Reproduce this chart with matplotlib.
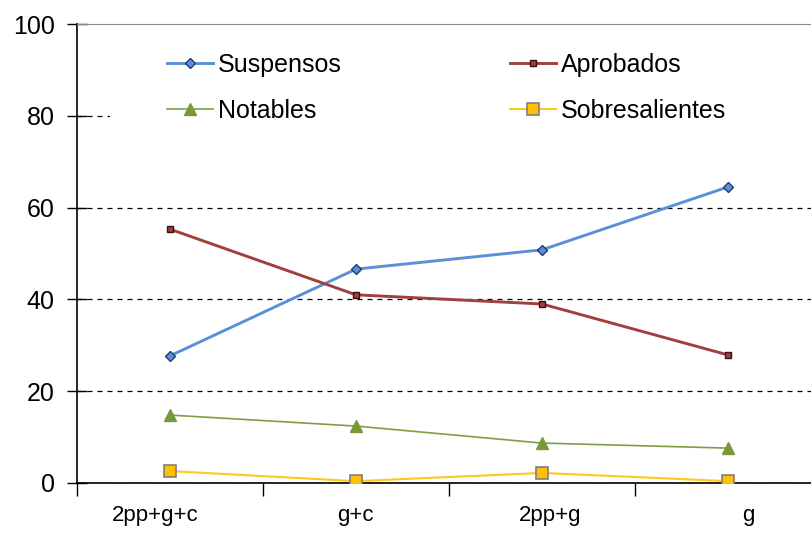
import matplotlib.pyplot as plt
import matplotlib.transforms as mtransforms
from matplotlib.patches import Rectangle

plt.rcParams['font.family'] = ['Liberation Sans', 'DejaVu Sans']

# categorias del eje x
grupos = ['2pp+g+c', 'g+c', '2pp+g', 'g']

# porcentaje de alumnos por nota
suspensos = [27.7, 46.6, 50.8, 64.5]
aprobados = [55.3, 41.0, 39.0, 27.9]
notables = [14.8, 12.4, 8.7, 7.6]
sobresalientes = [2.6, 0.4, 2.2, 0.4]

fig = plt.figure(figsize=(8.12, 5.34), dpi=100)
ax = fig.add_axes([77/812, 51/534, 744/812, 459/534])

x = range(len(grupos))
l1, = ax.plot(x, suspensos, color='#5B8FDA', lw=2.1, marker='D', ms=5,
              mfc='#5B8FDA', mec='#1F3F6F', mew=1, label='Suspensos', zorder=5)
l2, = ax.plot(x, aprobados, color='#A0403E', lw=2.1, marker='s', ms=5,
              mfc='#A0403E', mec='#3A1010', mew=1, label='Aprobados', zorder=5)
l3, = ax.plot(x, notables, color='#7F9F45', lw=1.2, marker='^', ms=8,
              mfc='#769A3A', mec='#769A3A', label='Notables', zorder=5)
l4, = ax.plot(x, sobresalientes, color='#FFC91A', lw=1.5, marker='s', ms=8,
              mfc='#FFC000', mec='#7F7F7F', mew=1.2, label='Sobresalientes', zorder=5)

ax.set_xlim(-0.5, 3.5)
ax.set_ylim(0, 100)
ax.set_yticks([0, 20, 40, 60, 80, 100])
ax.yaxis.grid(True, ls=(0, (4, 4)), color='black', lw=0.9)
ax.get_ygridlines()[-1].set_visible(False)
ax.tick_params(axis='y', direction='inout', length=14, width=1, labelsize=18, pad=9)

# etiquetas centradas, ticks entre categorias
ax.set_xticks([-0.5, 0.5, 1.5, 2.5, 3.5])
ax.set_xticklabels([])
ax.set_xticks(list(x), minor=True)
ax.set_xticklabels(grupos, minor=True)
ax.tick_params(axis='x', which='major', direction='out', length=9, width=1)
ax.tick_params(axis='x', which='minor', length=0, labelsize=16, pad=16)

# pequeño desplazamiento de las etiquetas como en el original
desp = [-15, -1, 8, 20]
for lab, d in zip(ax.get_xticklabels(minor=True), desp):
    lab.set_transform(lab.get_transform() + mtransforms.ScaledTranslation(d/100, 0, fig.dpi_scale_trans))

ax.spines['right'].set_visible(False)
ax.spines['top'].set_color('#888888')
ax.spines['top'].set_linewidth(0.8)
ax.spines['left'].set_linewidth(1.2)
ax.spines['bottom'].set_linewidth(1.2)

# fondo blanco de la leyenda (tapa la linea de 80)
fig.patches.append(Rectangle((110/812, 1 - 135/534), 1, 98/534, transform=fig.transFigure,
                             facecolor='white', edgecolor='none', zorder=1))
ax.set_zorder(0)
ax.patch.set_alpha(0)

leg = fig.legend([l1, l3, l2, l4], ['Suspensos', 'Notables', 'Aprobados', 'Sobresalientes'],
                 ncol=2, loc='upper left', bbox_to_anchor=(167/812, 1 - 53/534),
                 frameon=False, fontsize=18, handlelength=1.85, handletextpad=0.2,
                 columnspacing=6.7, labelspacing=0.86, borderpad=0, borderaxespad=0)

fig.savefig('out.png', dpi=100)
